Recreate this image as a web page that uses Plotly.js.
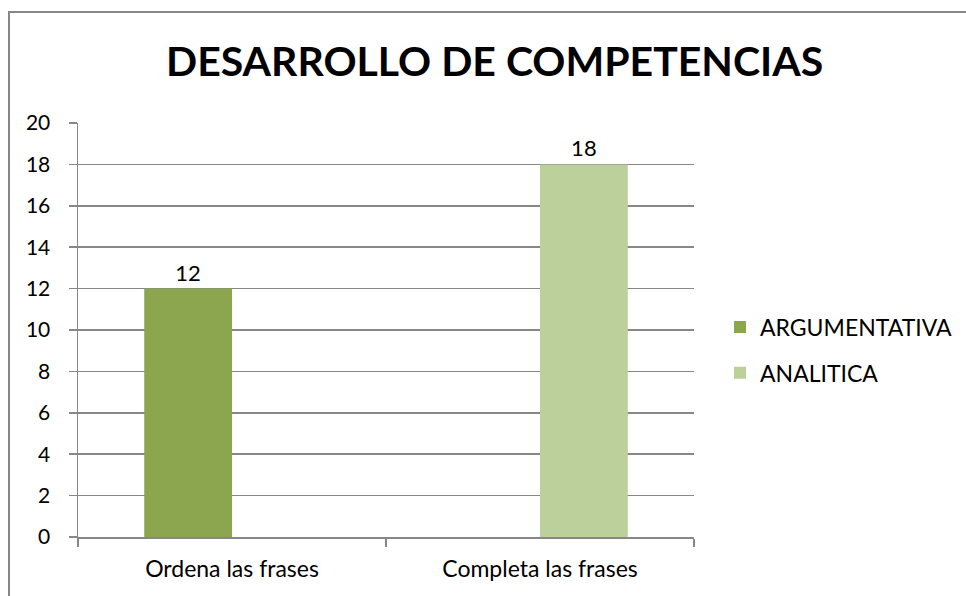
<!DOCTYPE html>
<html>
<head>
<meta charset="utf-8">
<script src="https://cdn.plot.ly/plotly-3.0.1.min.js"></script>
<style>
  html, body { margin: 0; padding: 0; background: #fff; }
  #wrap { position: relative; width: 966px; height: 596px; overflow: hidden; }
  #chart { position: absolute; left: 0; top: 0; width: 966px; height: 596px; }
  #frame { position: absolute; left: 8px; top: 11px; width: 980px; height: 600px;
           border-left: 2px solid #878787; border-top: 2px solid #878787; pointer-events: none; }
</style>
</head>
<body>
<div id="wrap">
  <div id="chart"></div>
  <div id="frame"></div>
</div>
<script>
const categories = ["Ordena las frases", "Completa las frases"];
const argumentativa = [12, null];
const analitica = [null, 18];
const seriesNames = ["ARGUMENTATIVA", "ANALITICA"];
const yTicks = [0, 2, 4, 6, 8, 10, 12, 14, 16, 18, 20];

const FONT = "Lato, 'Open Sans', sans-serif";

const traces = [
  {
    type: "bar", name: seriesNames[0], x: categories, y: argumentativa,
    marker: { color: "#8ba64e" },
    text: argumentativa.map(v => v == null ? "" : String(v)),
    textposition: "outside", cliponaxis: false,
    textfont: { family: FONT, size: 22, color: "#000" },
    legendgroup: "a"
  },
  {
    type: "bar", name: seriesNames[1], x: categories, y: analitica,
    marker: { color: "#bbd09a" },
    text: analitica.map(v => v == null ? "" : String(v)),
    textposition: "outside", cliponaxis: false,
    textfont: { family: FONT, size: 22, color: "#000" },
    legendgroup: "b"
  }
];

const layout = {
  width: 966, height: 596,
  margin: { l: 78, r: 272, t: 123, b: 59 },
  paper_bgcolor: "#fff", plot_bgcolor: "#fff",
  font: { family: FONT, color: "#000" },
  title: {
    text: "<b>DESARROLLO DE COMPETENCIAS</b>",
    font: { family: FONT, size: 41, color: "#000" },
    x: 0.512, xref: "container", xanchor: "center",
    y: 0.896, yref: "container", yanchor: "middle"
  },
  barmode: "group",
  bargap: 0.43,
  bargroupgap: 0,
  showlegend: true,
  legend: {
    xref: "container", yref: "container",
    x: 720 / 966, y: 1 - 350 / 596, xanchor: "left", yanchor: "middle",
    font: { family: FONT, size: 23, color: "#000" },
    traceorder: "grouped", tracegroupgap: 13,
    itemwidth: 30
  },
  xaxis: {
    type: "category",
    showline: true, linecolor: "#878787", linewidth: 1.5,
    ticks: "outside", tickson: "boundaries", ticklen: 8, tickcolor: "#878787", tickwidth: 1.5,
    tickfont: { family: FONT, size: 23, color: "#000" },
    ticklabelstandoff: 11,
    showgrid: false, zeroline: false, fixedrange: true
  },
  yaxis: {
    range: [0, 20], tickvals: yTicks, ticktext: yTicks.map(String),
    showline: true, linecolor: "#878787", linewidth: 1.5,
    ticks: "outside", ticklen: 8, tickcolor: "#878787", tickwidth: 1.5,
    showgrid: true, gridcolor: "#878787", gridwidth: 1.5,
    zeroline: false,
    tickfont: { family: FONT, size: 21, color: "#000" },
    ticklabelstandoff: 14,
    fixedrange: true
  }
};

Plotly.newPlot("chart", traces, layout, { displayModeBar: false, staticPlot: true });
</script>
</body>
</html>
